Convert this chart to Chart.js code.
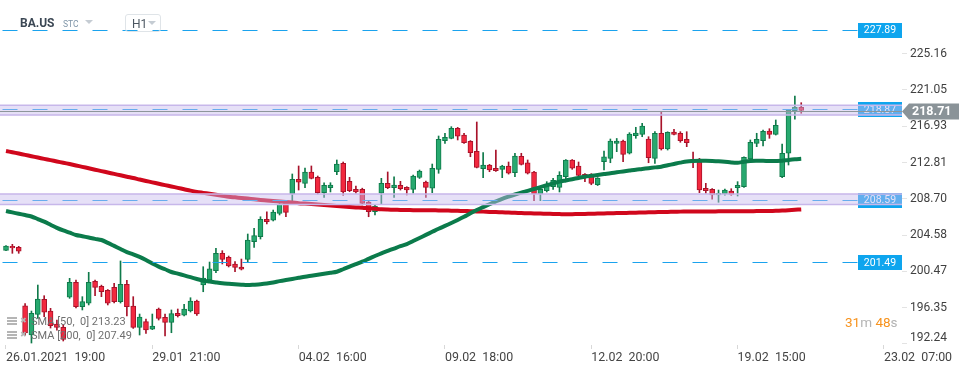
<!DOCTYPE html>
<html>
<head>
<meta charset="utf-8">
<script src="https://cdn.jsdelivr.net/npm/chart.js@4.4.1/dist/chart.umd.min.js"></script>
<style>
  html, body { margin: 0; padding: 0; background: #fff; }
  #wrap { position: relative; width: 970px; height: 368px; overflow: hidden; font-family: Roboto, sans-serif; }
  canvas { position: absolute; left: 0; top: 0; }
  .ov { position: absolute; white-space: pre; line-height: 1; }
  .sym { left: 20px; top: 17px; font-size: 12px; font-weight: bold; color: #3b4754; }
  .stc { left: 63px; top: 20px; font-size: 8.5px; color: #7f95a8; }
  .tri { position: absolute; width: 0; height: 0; border-left: 4px solid transparent; border-right: 4px solid transparent; border-top: 4px solid #c5ccd3; }
  .tf { position: absolute; left: 125px; top: 14px; width: 34px; height: 16px; border: 1px solid #dfe4e8; border-radius: 3px; }
  .tf span { position: absolute; left: 6px; top: 3px; font-size: 12px; color: #4b5661; line-height: 1; }
  .leg { font-size: 11px; color: #6f6f6f; left: 31px; }
  .ico { position: absolute; width: 10px; height: 8px; background: repeating-linear-gradient(#b5b5b5 0 2px, transparent 2px 3px); }
  .pin { position: absolute; font-size: 8px; color: #b5b5b5; line-height: 1; }
  .cd { left: 845px; top: 316px; font-size: 13.5px; }
  .cd .o { color: #f7931e; }
  .cd .g { color: #b3b3b3; }
</style>
</head>
<body>
<div id="wrap">
  <canvas id="chart" width="970" height="368"></canvas>
  <div class="ov sym">BA.US</div>
  <div class="ov stc">STC</div>
  <div class="tri" style="left:85px;top:20px"></div>
  <div class="tf"><span>H1</span><div class="tri" style="left:22px;top:6px"></div></div>
  <div class="ico" style="left:7px;top:317px"></div><div class="pin" style="left:20px;top:317px">✖</div>
  <div class="ov leg" style="top:316px">SMA [50,  0] 213.23</div>
  <div class="ico" style="left:7px;top:331px"></div><div class="pin" style="left:20px;top:331px">✖</div>
  <div class="ov leg" style="top:330px">SMA [200,  0] 207.49</div>
  <div class="ov cd"><span class="o">31</span><span class="g">m</span> <span class="o">48</span><span class="g">s</span></div>
</div>
<script>
// BA.US hourly candles, 26.01.2021 19:00 .. 22.02 18:00
const opens = [202.85,203.30,203.19,196.56,193.24,195.59,197.29,195.96,194.49,194.11,
  197.52,199.22,196.45,196.84,199.33,198.77,198.31,198.65,197.02,198.99,
  196.53,194.11,194.75,193.89,196.19,195.25,194.68,195.70,195.48,195.96,
  197.10,198.91,199.48,200.54,202.51,202.06,201.30,200.96,201.83,203.83,
  204.39,206.37,206.26,207.05,208.18,209.24,210.91,210.45,211.74,211.13,
  209.39,209.95,211.77,212.72,210.68,209.77,209.77,208.33,207.23,209.32,
  210.45,209.95,210.23,210.00,209.77,211.13,210.60,209.89,212.04,215.29,
  215.56,216.69,215.93,215.22,214.08,212.11,212.53,212.16,212.04,212.42,
  211.66,213.52,212.79,211.74,209.24,209.61,210.07,210.00,211.20,213.10,
  212.42,211.48,211.48,210.29,212.90,213.29,214.99,215.25,213.86,215.85,
  216.01,215.48,213.29,216.13,214.35,216.27,216.13,215.45,213.18,212.90,
  209.89,209.77,209.13,209.24,209.58,209.95,210.07,213.21,214.99,215.29,
  216.39,216.01,211.20,213.86,218.69,219.08];
const highs = [203.40,203.53,203.30,196.80,195.96,198.91,197.70,196.27,194.94,194.37,
  199.67,199.48,197.59,200.35,199.48,198.90,198.40,199.10,201.64,199.45,
  197.59,195.62,195.06,195.62,196.30,195.62,196.08,196.19,196.72,197.47,
  197.20,200.99,201.52,203.08,202.81,202.20,201.56,201.86,204.70,205.35,
  206.66,207.23,207.42,208.48,208.36,211.51,212.42,212.19,212.42,211.28,
  210.52,210.52,213.10,212.87,211.13,210.15,209.90,208.40,208.00,211.02,
  211.74,211.20,210.68,210.07,211.40,211.96,210.70,212.64,215.82,216.13,
  216.88,216.80,216.13,215.30,217.41,213.93,212.60,214.23,212.50,212.87,
  213.86,213.86,213.10,211.80,209.85,210.64,211.02,211.77,213.15,213.15,
  212.87,211.55,211.55,211.10,214.12,215.48,215.54,215.35,216.20,216.81,
  217.26,215.74,216.31,218.58,216.30,216.58,216.31,216.31,214.00,213.29,
  210.45,209.85,209.69,209.80,209.84,210.64,213.47,215.37,216.13,216.50,
  216.65,217.64,214.91,218.80,220.36,219.60];
const lows = [202.80,202.51,202.51,193.20,192.33,195.13,195.32,194.03,193.80,192.56,
  197.40,196.30,196.08,196.65,197.70,197.59,196.65,196.87,196.87,195.40,
  193.99,193.24,193.43,193.85,194.94,193.13,193.50,195.28,195.40,195.85,
  195.45,198.15,199.25,200.31,201.30,200.96,200.42,200.62,201.56,203.19,
  204.13,205.84,206.18,206.86,206.66,208.36,209.69,209.95,210.95,209.24,
  208.86,209.47,211.43,209.09,209.50,209.32,207.99,206.66,206.86,208.10,
  209.84,208.86,209.69,209.13,209.32,211.00,208.86,209.39,211.59,214.99,
  215.50,215.37,214.99,213.47,212.20,211.09,211.77,211.80,211.09,211.50,
  211.20,212.53,211.51,208.48,208.48,209.47,209.77,209.47,210.64,212.04,
  211.20,210.64,210.29,210.20,211.96,212.79,214.04,212.90,213.78,215.56,
  215.74,212.79,212.72,214.23,214.23,215.93,215.11,214.61,212.22,209.39,
  209.32,208.64,208.30,209.10,209.09,209.01,210.00,213.02,214.61,214.69,
  215.56,215.93,211.09,212.53,217.72,218.40];
const closes = [203.34,203.11,202.74,193.47,195.70,197.32,195.82,194.30,194.11,192.75,
  199.22,196.45,197.02,199.22,198.65,198.15,196.84,197.02,198.99,196.45,
  194.11,195.28,193.81,194.26,195.13,194.68,195.66,195.43,196.19,197.10,
  195.62,199.71,200.75,202.51,201.83,201.07,200.92,200.70,204.02,204.51,
  206.37,206.10,207.20,208.07,207.16,210.91,210.57,211.74,211.02,209.39,
  210.23,210.26,212.64,209.47,209.61,209.47,208.18,207.23,207.88,210.45,
  209.95,210.26,209.84,209.69,211.28,211.85,210.00,212.16,215.45,215.67,
  216.69,215.79,215.06,213.93,212.27,212.53,211.96,211.88,212.42,211.59,
  213.55,212.61,211.59,209.24,209.77,210.15,210.79,211.36,213.10,212.16,
  211.36,211.20,210.45,211.05,213.47,215.25,215.25,213.74,216.05,216.16,
  216.95,213.36,216.13,214.35,216.24,216.01,215.29,215.06,212.95,209.69,
  209.61,209.13,209.32,209.69,209.20,210.23,213.40,215.11,215.45,216.35,
  216.01,217.03,213.86,218.77,219.08,218.71];

const sma50 = [207.31,207.15,207.00,206.85,206.69,206.40,206.10,205.75,205.40,205.10,
  204.85,204.59,204.45,204.30,204.15,204.02,203.70,203.35,203.00,202.65,
  202.40,202.10,201.75,201.35,201.00,200.70,200.39,200.20,200.00,199.80,
  199.60,199.40,199.30,199.20,199.11,199.05,199.00,198.95,198.91,198.95,
  199.00,199.08,199.20,199.35,199.48,199.60,199.73,199.86,199.97,200.08,
  200.20,200.31,200.42,200.70,201.00,201.28,201.56,201.88,202.20,202.51,
  202.78,203.05,203.32,203.55,203.90,204.25,204.60,204.95,205.30,205.62,
  205.95,206.29,206.65,207.05,207.42,207.75,208.08,208.40,208.70,208.95,
  209.18,209.40,209.60,209.81,210.02,210.23,210.44,210.64,210.78,210.92,
  211.06,211.20,211.30,211.40,211.50,211.59,211.70,211.80,211.90,212.00,
  212.08,212.17,212.26,212.34,212.50,212.65,212.80,212.93,212.98,213.00,
  213.00,212.98,212.95,212.90,212.82,212.79,212.90,212.98,213.00,213.00,
  212.98,212.98,213.00,213.10,213.18,213.23];
const sma200 = [214.12,213.98,213.83,213.68,213.53,213.38,213.23,213.08,212.93,212.79,
  212.64,212.48,212.32,212.16,212.00,211.84,211.68,211.52,211.36,211.20,
  211.05,210.88,210.72,210.56,210.40,210.25,210.10,209.94,209.78,209.62,
  209.48,209.37,209.26,209.15,209.04,208.93,208.86,208.79,208.72,208.64,
  208.56,208.51,208.45,208.39,208.33,208.27,208.20,208.15,208.10,208.05,
  207.99,207.93,207.88,207.83,207.77,207.72,207.68,207.62,207.56,207.50,
  207.47,207.45,207.43,207.42,207.41,207.40,207.40,207.39,207.38,207.37,
  207.35,207.33,207.31,207.29,207.26,207.24,207.21,207.19,207.16,207.13,
  207.11,207.08,207.06,207.04,207.02,207.00,206.98,206.96,206.94,206.95,
  206.97,206.98,207.00,207.02,207.04,207.05,207.07,207.09,207.10,207.12,
  207.14,207.16,207.18,207.20,207.21,207.23,207.24,207.25,207.26,207.26,
  207.26,207.26,207.27,207.27,207.28,207.28,207.29,207.29,207.30,207.30,
  207.31,207.33,207.36,207.40,207.45,207.49];

const xTickIdx = [0, 23, 46, 69, 92, 115, 138];
const xTickLabels = ['26.01.2021  19:00', '29.01  21:00', '04.02  16:00', '09.02  18:00', '12.02  20:00', '19.02  15:00', '23.02  07:00'];
const yTicks = [192.24, 196.35, 200.47, 204.58, 208.70, 212.81, 216.93, 221.05, 225.16];
const levels = [227.89, 218.87, 208.59, 201.49];
const zones = [[218.20, 219.30], [208.05, 209.25]];
const lastPrice = 218.71;

const UP = '#27a96f', UP_EDGE = '#0f7a4a', DOWN = '#f2283e', DOWN_EDGE = '#a8122a';
const isUp = (i) => closes[i] >= opens[i];

const levelsPlugin = {
  id: 'levels',
  afterDraw(chart) {
    const { ctx, chartArea: area, scales: { y } } = chart;
    const boxLeft = area.right - 44;
    ctx.save();
    // dashed price levels
    ctx.lineWidth = 1.2;
    ctx.strokeStyle = '#1ba3ee';
    ctx.setLineDash([15, 15]);
    ctx.lineDashOffset = 27.5;
    levels.forEach(v => {
      const py = Math.round(y.getPixelForValue(v)) + 0.5;
      ctx.beginPath();
      ctx.moveTo(area.left, py);
      ctx.lineTo(boxLeft, py);
      ctx.stroke();
    });
    ctx.setLineDash([]);
    ctx.font = '10.5px Roboto';
    ctx.textBaseline = 'middle';
    ctx.textAlign = 'center';
    levels.forEach(v => {
      const py = y.getPixelForValue(v);
      ctx.fillStyle = '#0ea5ee';
      ctx.fillRect(boxLeft, Math.round(py) - 7, 44, 15);
      ctx.fillStyle = '#fff';
      ctx.fillText(v.toFixed(2), boxLeft + 22, py + 1);
    });
    // zones
    zones.forEach(([lo, hi]) => {
      const top = y.getPixelForValue(hi);
      const bot = y.getPixelForValue(lo);
      ctx.fillStyle = 'rgba(200, 186, 238, 0.45)';
      ctx.fillRect(area.left, top, area.right - area.left, bot - top);
      ctx.strokeStyle = '#c7b7ea';
      ctx.lineWidth = 1.5;
      ctx.beginPath();
      ctx.moveTo(area.left, top); ctx.lineTo(area.right, top);
      ctx.moveTo(area.left, bot); ctx.lineTo(area.right, bot);
      ctx.stroke();
    });
    // last price line + tag
    const lp = Math.round(y.getPixelForValue(lastPrice)) + 0.5;
    ctx.strokeStyle = '#8d969b';
    ctx.lineWidth = 1;
    ctx.beginPath();
    ctx.moveTo(area.left, lp);
    ctx.lineTo(area.right, lp);
    ctx.stroke();
    ctx.fillStyle = '#8a9398';
    ctx.beginPath();
    ctx.moveTo(area.right, lp);
    ctx.lineTo(area.right + 7, lp - 8);
    ctx.lineTo(area.right + 57, lp - 8);
    ctx.lineTo(area.right + 57, lp + 8);
    ctx.lineTo(area.right + 7, lp + 8);
    ctx.closePath();
    ctx.fill();
    ctx.fillStyle = '#fff';
    ctx.font = 'bold 12.5px Roboto';
    ctx.textAlign = 'left';
    ctx.fillText(lastPrice.toFixed(2), area.right + 10, lp + 0.5);
    ctx.restore();
  }
};

Chart.defaults.font.family = 'Roboto';

new Chart(document.getElementById('chart'), {
  type: 'bar',
  data: {
    datasets: [
      {
        type: 'line', label: 'SMA 50', order: 0,
        data: sma50.map((v, i) => ({ x: i, y: v })),
        borderColor: '#0b7b4b', borderWidth: 4, pointRadius: 0, tension: 0.3
      },
      {
        type: 'line', label: 'SMA 200', order: 1,
        data: sma200.map((v, i) => ({ x: i, y: v })),
        borderColor: '#d0071c', borderWidth: 4, pointRadius: 0, tension: 0.3
      },
      {
        label: 'body', order: 2, grouped: false,
        data: opens.map((o, i) => ({ x: i, y: [o, closes[i]] })),
        barThickness: 5, minBarLength: 1, borderWidth: 1, borderSkipped: false,
        backgroundColor: opens.map((o, i) => isUp(i) ? UP : DOWN),
        borderColor: opens.map((o, i) => isUp(i) ? UP_EDGE : DOWN_EDGE)
      },
      {
        label: 'wick', order: 3, grouped: false,
        data: lows.map((l, i) => ({ x: i, y: [l, highs[i]] })),
        barThickness: 1,
        backgroundColor: lows.map((l, i) => isUp(i) ? UP_EDGE : DOWN_EDGE)
      }
    ]
  },
  options: {
    responsive: false,
    animation: false,
    layout: { padding: 0 },
    plugins: { legend: { display: false }, tooltip: { enabled: false } },
    scales: {
      x: {
        type: 'linear', min: -0.943, max: 140.84, bounds: 'data', offset: false,
        grid: { drawOnChartArea: false, offset: false, tickLength: 4, color: '#d8d8d8' },
        border: { display: false },
        afterBuildTicks: (s) => { s.ticks = xTickIdx.map(v => ({ value: v })); },
        afterFit: (s) => { s.height = 23; s.paddingLeft = 0; s.paddingRight = 0; },
        ticks: {
          autoSkip: false, maxRotation: 0, minRotation: 0, align: 'start', padding: 1,
          color: '#444', font: { size: 12.4 },
          callback: (v) => xTickLabels[xTickIdx.indexOf(v)] || ''
        }
      },
      y: {
        position: 'right', min: 192.106, max: 231.253, bounds: 'data', beginAtZero: false,
        grid: { drawOnChartArea: false, tickLength: 5, color: '#e3e3e3' },
        border: { display: false },
        afterBuildTicks: (s) => { s.ticks = yTicks.map(v => ({ value: v })); },
        afterFit: (s) => { s.width = 68; s.paddingTop = 0; s.paddingBottom = 0; },
        ticks: {
          autoSkip: false, padding: 3, color: '#404040',
          font: (c) => ({ size: 12, lineHeight: c.tick && c.tick.value === yTicks[0] ? 1 : 1.2 }),
          // bottom label sits a little higher, like the platform clamps it
          callback: (v) => v === yTicks[0] ? [v.toFixed(2), ''] : v.toFixed(2)
        }
      }
    }
  },
  plugins: [levelsPlugin]
});
</script>
</body>
</html>
